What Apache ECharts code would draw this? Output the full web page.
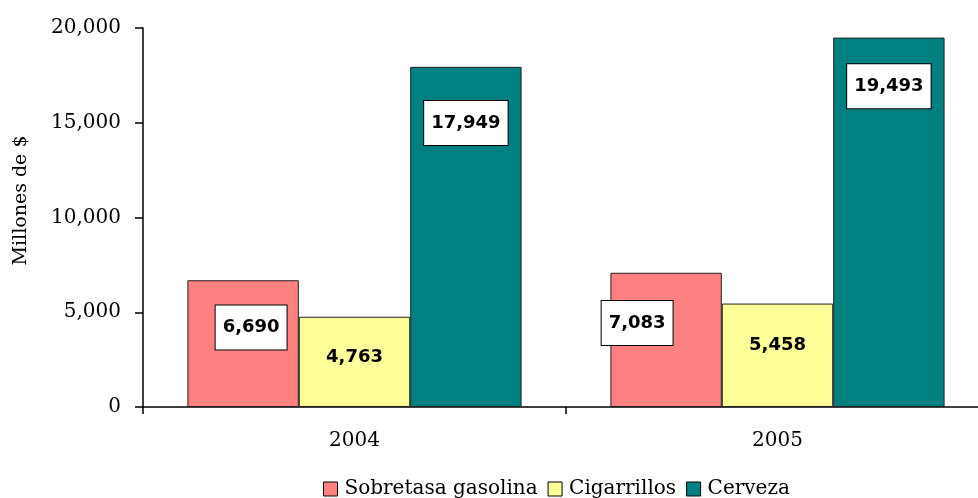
<!DOCTYPE html>
<html>
<head>
<meta charset="utf-8">
<script src="https://cdn.jsdelivr.net/npm/echarts@6/dist/echarts.min.js"></script>
<style>
  html, body { margin: 0; padding: 0; background: #fff; }
  #chart { width: 978px; height: 498px; }
</style>
</head>
<body>
<div id="chart"></div>
<script>
/* 数据 */
var years = ["2004", "2005"];
var seriesNames = ["Sobretasa gasolina", "Cigarrillos", "Cerveza"];
var gasolina = [6690, 7083];
var cigarrillos = [4763, 5458];
var cerveza = [17949, 19493];
var yTicks = [0, 5000, 10000, 15000, 20000];

/* 样式 */
var COLORS = ["#ff8080", "#ffff99", "#008080"];
var SERIF = "'DejaVu Serif', serif";
var SANS = "'DejaVu Sans', Verdana, sans-serif";

/* 标签的手工偏移（Excel 里的标签是拖动过的） */
var labelOffsets = [
    [[8, -16], [-29, -17]],
    [[0, -5], [0, -10]],
    [[0, -114], [0, -136]]
];
var boxed = [true, false, true];

function fmt(v) {
    return String(v).replace(/\B(?=(\d{3})+(?!\d))/g, ",");
}

var chart = echarts.init(document.getElementById("chart"));
var all = [gasolina, cigarrillos, cerveza];

var series = [];
for (var i = 0; i < all.length; i++) {
    var data = [];
    for (var j = 0; j < all[i].length; j++) {
        data.push({
            value: all[i][j],
            label: { offset: labelOffsets[i][j] }
        });
    }
    series.push({
        name: seriesNames[i],
        type: "bar",
        barGap: "0%",
        barCategoryGap: "21%",
        data: data,
        itemStyle: { color: COLORS[i], borderColor: "#222", borderWidth: 1 },
        label: {
            show: true,
            position: "inside",
            fontFamily: SANS,
            fontWeight: "bold",
            fontSize: 18,
            color: "#000",
            backgroundColor: boxed[i] ? "#fff" : "transparent",
            borderColor: boxed[i] ? "#000" : "transparent",
            borderWidth: 1,
            padding: [14, 7, 12, 7],
            formatter: function (p) { return fmt(p.value); }
        }
    });
}

chart.setOption({
    animation: false,
    legend: {
        bottom: -6,
        left: 318,
        itemWidth: 14,
        itemHeight: 14,
        itemGap: 10,
        icon: "rect",
        textStyle: { fontFamily: SERIF, fontSize: 20, color: "#000", padding: [0, 0, 0, 2] },
        itemStyle: { borderColor: "#000", borderWidth: 1 },
        data: seriesNames
    },
    grid: { left: 143, top: 28, bottom: 91, width: 846, outerBoundsMode: "none", containLabel: false },
    xAxis: {
        type: "category",
        data: years,
        axisLine: { lineStyle: { color: "#000", width: 1.5 } },
        axisTick: { show: true, length: 7, lineStyle: { color: "#000", width: 1.5 } },
        axisLabel: { fontFamily: SERIF, fontSize: 20, color: "#000", margin: 24 }
    },
    yAxis: {
        type: "value",
        min: yTicks[0],
        max: yTicks[yTicks.length - 1],
        interval: yTicks[1] - yTicks[0],
        name: "Millones de $",
        nameLocation: "middle",
        nameGap: 112,
        nameRotate: 90,
        nameTextStyle: { fontFamily: SERIF, fontSize: 19, color: "#000", padding: [0, 0, 0, 34] },
        splitLine: { show: false },
        axisLine: { show: true, lineStyle: { color: "#000", width: 1.5 } },
        axisTick: { show: true, length: 8, lineStyle: { color: "#000", width: 1.5 } },
        axisLabel: {
            fontFamily: SERIF, fontSize: 20, color: "#000", margin: 22,
            formatter: function (v) { return fmt(v); }
        }
    },
    series: series
});
</script>
</body>
</html>
